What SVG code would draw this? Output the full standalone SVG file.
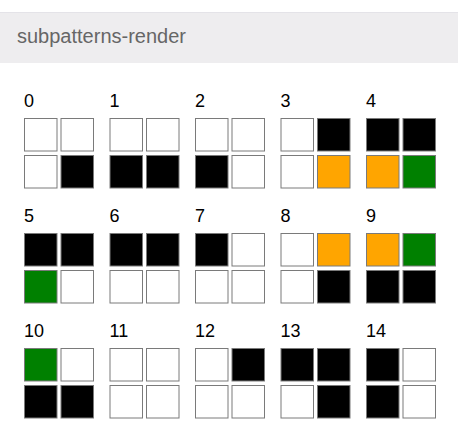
<svg xmlns="http://www.w3.org/2000/svg" width="458" height="439" viewBox="0 0 458 439">
<style>
.lbl{font-family:"Liberation Sans",Arial,sans-serif;font-size:18px;fill:#000}
.hdr{font-family:"Liberation Sans",Arial,sans-serif;font-size:20px;fill:#666}
.c{stroke:#7a7a7a;stroke-width:1}
.w{fill:#fff}.b{fill:#000}.o{fill:#ffa500}.g{fill:#008000}
</style>
<defs>
<g id="grid"></g>
</defs>
<rect x="0" y="0" width="458" height="439" fill="#fff"/>
<g id="header">
<rect x="0" y="12" width="458" height="51" fill="#eeedef"/>
<line x1="0" y1="12.5" x2="458" y2="12.5" stroke="#e4e3e8" stroke-width="1"/>
<text class="hdr" x="17" y="43">subpatterns-render</text>
</g>
<g id="p0" transform="translate(24,118)"><text class="lbl" x="0" y="-11.5">0</text>
<rect class="c w" x="0.5" y="0.5" width="32.5" height="32.5"/><rect class="c w" x="37" y="0.5" width="32.5" height="32.5"/>
<rect class="c w" x="0.5" y="37.5" width="32.5" height="32.5"/><rect class="c b" x="37" y="37.5" width="32.5" height="32.5"/></g>
<g id="p1" transform="translate(109.5,118)"><text class="lbl" x="0" y="-11.5">1</text>
<rect class="c w" x="0.5" y="0.5" width="32.5" height="32.5"/><rect class="c w" x="37" y="0.5" width="32.5" height="32.5"/>
<rect class="c b" x="0.5" y="37.5" width="32.5" height="32.5"/><rect class="c b" x="37" y="37.5" width="32.5" height="32.5"/></g>
<g id="p2" transform="translate(195,118)"><text class="lbl" x="0" y="-11.5">2</text>
<rect class="c w" x="0.5" y="0.5" width="32.5" height="32.5"/><rect class="c w" x="37" y="0.5" width="32.5" height="32.5"/>
<rect class="c b" x="0.5" y="37.5" width="32.5" height="32.5"/><rect class="c w" x="37" y="37.5" width="32.5" height="32.5"/></g>
<g id="p3" transform="translate(280.5,118)"><text class="lbl" x="0" y="-11.5">3</text>
<rect class="c w" x="0.5" y="0.5" width="32.5" height="32.5"/><rect class="c b" x="37" y="0.5" width="32.5" height="32.5"/>
<rect class="c w" x="0.5" y="37.5" width="32.5" height="32.5"/><rect class="c o" x="37" y="37.5" width="32.5" height="32.5"/></g>
<g id="p4" transform="translate(366,118)"><text class="lbl" x="0" y="-11.5">4</text>
<rect class="c b" x="0.5" y="0.5" width="32.5" height="32.5"/><rect class="c b" x="37" y="0.5" width="32.5" height="32.5"/>
<rect class="c o" x="0.5" y="37.5" width="32.5" height="32.5"/><rect class="c g" x="37" y="37.5" width="32.5" height="32.5"/></g>
<g id="p5" transform="translate(24,233)"><text class="lbl" x="0" y="-11.5">5</text>
<rect class="c b" x="0.5" y="0.5" width="32.5" height="32.5"/><rect class="c b" x="37" y="0.5" width="32.5" height="32.5"/>
<rect class="c g" x="0.5" y="37.5" width="32.5" height="32.5"/><rect class="c w" x="37" y="37.5" width="32.5" height="32.5"/></g>
<g id="p6" transform="translate(109.5,233)"><text class="lbl" x="0" y="-11.5">6</text>
<rect class="c b" x="0.5" y="0.5" width="32.5" height="32.5"/><rect class="c b" x="37" y="0.5" width="32.5" height="32.5"/>
<rect class="c w" x="0.5" y="37.5" width="32.5" height="32.5"/><rect class="c w" x="37" y="37.5" width="32.5" height="32.5"/></g>
<g id="p7" transform="translate(195,233)"><text class="lbl" x="0" y="-11.5">7</text>
<rect class="c b" x="0.5" y="0.5" width="32.5" height="32.5"/><rect class="c w" x="37" y="0.5" width="32.5" height="32.5"/>
<rect class="c w" x="0.5" y="37.5" width="32.5" height="32.5"/><rect class="c w" x="37" y="37.5" width="32.5" height="32.5"/></g>
<g id="p8" transform="translate(280.5,233)"><text class="lbl" x="0" y="-11.5">8</text>
<rect class="c w" x="0.5" y="0.5" width="32.5" height="32.5"/><rect class="c o" x="37" y="0.5" width="32.5" height="32.5"/>
<rect class="c w" x="0.5" y="37.5" width="32.5" height="32.5"/><rect class="c b" x="37" y="37.5" width="32.5" height="32.5"/></g>
<g id="p9" transform="translate(366,233)"><text class="lbl" x="0" y="-11.5">9</text>
<rect class="c o" x="0.5" y="0.5" width="32.5" height="32.5"/><rect class="c g" x="37" y="0.5" width="32.5" height="32.5"/>
<rect class="c b" x="0.5" y="37.5" width="32.5" height="32.5"/><rect class="c b" x="37" y="37.5" width="32.5" height="32.5"/></g>
<g id="p10" transform="translate(24,348)"><text class="lbl" x="0" y="-11.5">10</text>
<rect class="c g" x="0.5" y="0.5" width="32.5" height="32.5"/><rect class="c w" x="37" y="0.5" width="32.5" height="32.5"/>
<rect class="c b" x="0.5" y="37.5" width="32.5" height="32.5"/><rect class="c b" x="37" y="37.5" width="32.5" height="32.5"/></g>
<g id="p11" transform="translate(109.5,348)"><text class="lbl" x="0" y="-11.5">11</text>
<rect class="c w" x="0.5" y="0.5" width="32.5" height="32.5"/><rect class="c w" x="37" y="0.5" width="32.5" height="32.5"/>
<rect class="c w" x="0.5" y="37.5" width="32.5" height="32.5"/><rect class="c w" x="37" y="37.5" width="32.5" height="32.5"/></g>
<g id="p12" transform="translate(195,348)"><text class="lbl" x="0" y="-11.5">12</text>
<rect class="c w" x="0.5" y="0.5" width="32.5" height="32.5"/><rect class="c b" x="37" y="0.5" width="32.5" height="32.5"/>
<rect class="c w" x="0.5" y="37.5" width="32.5" height="32.5"/><rect class="c w" x="37" y="37.5" width="32.5" height="32.5"/></g>
<g id="p13" transform="translate(280.5,348)"><text class="lbl" x="0" y="-11.5">13</text>
<rect class="c b" x="0.5" y="0.5" width="32.5" height="32.5"/><rect class="c b" x="37" y="0.5" width="32.5" height="32.5"/>
<rect class="c w" x="0.5" y="37.5" width="32.5" height="32.5"/><rect class="c b" x="37" y="37.5" width="32.5" height="32.5"/></g>
<g id="p14" transform="translate(366,348)"><text class="lbl" x="0" y="-11.5">14</text>
<rect class="c b" x="0.5" y="0.5" width="32.5" height="32.5"/><rect class="c w" x="37" y="0.5" width="32.5" height="32.5"/>
<rect class="c b" x="0.5" y="37.5" width="32.5" height="32.5"/><rect class="c w" x="37" y="37.5" width="32.5" height="32.5"/></g>
<g id="connectors"></g>
</svg>
